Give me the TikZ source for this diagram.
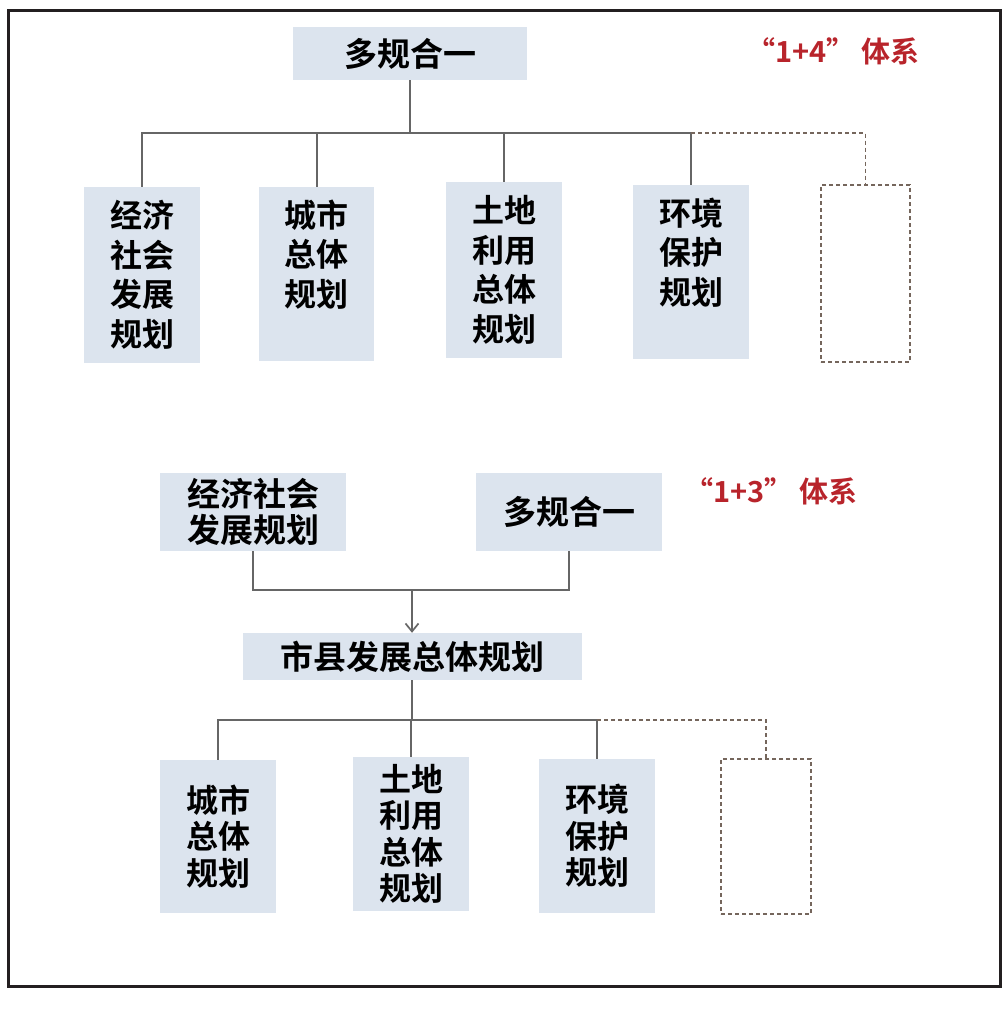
\documentclass[tikz,border=0pt]{standalone}
\usepackage{fontspec}
\setmainfont{Noto Sans CJK SC}[BoldFont={Noto Sans CJK SC Bold}]
\usetikzlibrary{arrows.meta}
\definecolor{boxfill}{HTML}{DCE4EE}
\definecolor{linegray}{HTML}{666666}
\definecolor{dashcol}{HTML}{75665C}
\definecolor{redtxt}{HTML}{B8242B}
\definecolor{framecol}{HTML}{231F20}
\tikzset{
  pbox/.style={fill=boxfill, draw=none, inner sep=0pt, align=center,
    font=\fontsize{32}{39.5}\selectfont\bfseries},
  pboxs/.style={pbox, font=\fontsize{32}{36.5}\selectfont\bfseries},
  dbox/.style={draw=dashcol, line width=1.6pt, dash pattern=on 4pt off 3pt, inner sep=0pt},
  conn/.style={draw=linegray, line width=2pt},
  dconn/.style={draw=dashcol, line width=1.6pt, dash pattern=on 4pt off 3pt},
  redlabel/.style={text=redtxt, font=\fontsize{29}{34}\selectfont\bfseries, inner sep=0pt}
}
\begin{document}
\begin{tikzpicture}[x=1pt,y=-1pt]
\useasboundingbox (0,0) rectangle (1007,1013);
\fill[white] (0,0) rectangle (1007,1013);
\draw[framecol, line width=3pt] (8,10) rectangle (1000,986);

% ---- top "1+4" system
\node[pbox, minimum width=234pt, minimum height=53pt, font=\fontsize{33}{38}\selectfont\bfseries] (t1) at (410,53.5) {多规合一};
\node[redlabel] (lab14) at (833,51) {“1+4” 体系};

\node[pbox, minimum width=116pt, minimum height=176pt] (e1) at (142,275) {经济\\社会\\发展\\规划};
\node[pbox, minimum width=115pt, minimum height=174pt] (c1) at (316.5,274) {城市\\总体\\规划\\\phantom{规划}};
\node[pbox, minimum width=116pt, minimum height=176pt] (l1) at (504,270) {土地\\利用\\总体\\规划};
\node[pbox, minimum width=116pt, minimum height=174pt] (h1) at (691,272) {环境\\保护\\规划\\\phantom{规划}};
\node[dbox, minimum width=89pt, minimum height=177pt] (d1) at (865.5,273.5) {};

\coordinate (tj) at (410,133);
\draw[conn] (t1.south) -- (tj);
\draw[conn] (e1.north) -- (e1.north |- tj) -- (h1.north |- tj) -- (h1.north);
\draw[conn] (c1.north) -- (c1.north |- tj);
\draw[conn] (l1.north) -- (l1.north |- tj);
\draw[dconn] (h1.north |- tj) -| (d1.north);

% ---- bottom "1+3" system
\node[pbox, minimum width=186pt, minimum height=78pt, font=\fontsize{33}{36}\selectfont\bfseries] (be) at (253,512) {经济社会\\发展规划};
\node[pbox, minimum width=186pt, minimum height=78pt, font=\fontsize{33}{36}\selectfont\bfseries] (bm) at (569,512) {多规合一};
\node[redlabel] (lab13) at (771,491) {“1+3” 体系};

\node[pbox, minimum width=339pt, minimum height=47pt, font=\fontsize{33}{36}\selectfont\bfseries] (mid) at (412.5,656.5) {市县发展总体规划};

\coordinate (j) at (412,590);
\draw[conn] (be.south) |- (j) -| (bm.south);
\draw[conn, -{Straight Barb[length=8pt,width=13pt,line width=1.7pt]}] (j) -- (j |- mid.north);

\node[pboxs, minimum width=116pt, minimum height=153pt] (bc) at (218,836.5) {城市\\总体\\规划};
\node[pboxs, minimum width=116pt, minimum height=154pt] (bl) at (411,834) {土地\\利用\\总体\\规划};
\node[pboxs, minimum width=116pt, minimum height=154pt] (bh) at (597,836) {环境\\保护\\规划};
\node[dbox, minimum width=90pt, minimum height=155pt] (bd) at (766,836.5) {};

\coordinate (mj) at (412,720);
\draw[conn] (mid.south -| mj) -- (mj);
\draw[conn] (bc.north) -- (bc.north |- mj) -- (bh.north |- mj) -- (bh.north);
\draw[conn] (bl.north) -- (bl.north |- mj);
\draw[dconn] (bh.north |- mj) -| (bd.north);
\end{tikzpicture}
\end{document}
